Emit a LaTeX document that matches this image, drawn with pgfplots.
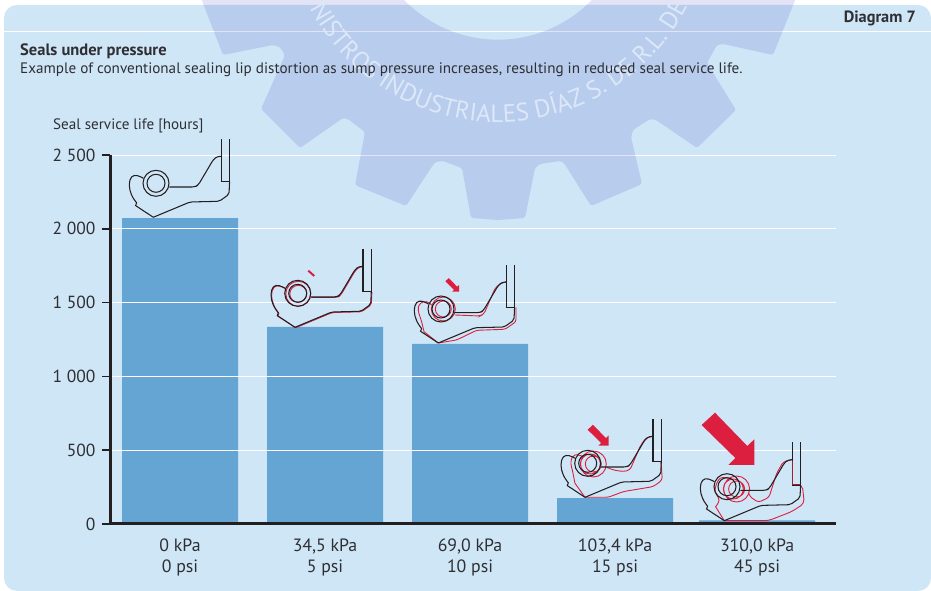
\documentclass[border=0pt]{standalone}
\usepackage{fontspec}
\setmainfont{PT Sans}
\usepackage{pgfplots}
\pgfplotsset{compat=1.18}
\usetikzlibrary{decorations.text}
\definecolor{panel}{HTML}{CFE6F7}
\definecolor{barc}{HTML}{65A5D3}
\definecolor{ink}{HTML}{231F20}
\definecolor{txt}{HTML}{2F2F33}
\definecolor{redc}{HTML}{DC1F3E}
\definecolor{gearm}{rgb}{0.89,0.89,0.96}
\definecolor{wm}{HTML}{DCE8F8}
\newcommand\sealblack{%
 \draw[ink,line width=1.05pt,rounded corners=2pt]
  (0,0)--(36.7,-15.3)--(66,-16)--(75.7,-23)--(76.3,-35.7);
 \draw[ink,line width=1.05pt] (76.3,-78.3)--(76.3,-35.7)--(68,-35.7)--(68,-78.3);
 \draw[ink,line width=1.05pt,rounded corners=3pt]
  (68,-61)--(64,-61)--(60,-57.7)--(45,-32.3)--(41.7,-30.3)--(16,-30.3);
 \draw[ink,line width=1.05pt] (2.7,-34) circle (13) (2.7,-34) circle (9);
 \draw[ink,line width=1.05pt] plot[smooth,tension=.7] coordinates
  {(-10,-39)(-16,-41.7)(-21.7,-40.3)(-24,-32.3)(-21.7,-22.3)(-16.7,-14.5)}
  --(-17.7,-11.7)--(0,0);
}
\begin{document}
\begin{tikzpicture}[x=1pt,y=1pt]
\path[use as bounding box] (0,0) rectangle (931,591);
\clip (0,0) rectangle (931,591);
\begin{scope}[y=-1pt,shift={(0pt,591pt)}]
 \fill[panel,rounded corners=13pt] (4,5) rectangle (931,591);
 \draw[white,line width=1.3pt] (4,31.3)--(931,31.3);
\end{scope}
\begin{axis}[
 at={(110pt,67pt)},anchor=south west,
 scale only axis,width=726pt,height=369pt,
 xmin=-0.483,xmax=4.524,ymin=0,ymax=2500,
 axis lines=left,axis line style={-,ink,line width=3pt},
 axis on top,
 xtick={0,1,2,3,3.98},
 xticklabels={{0 kPa\\0 psi},{34,5 kPa\\5 psi},{69,0 kPa\\10 psi},{103,4 kPa\\15 psi},{310,0 kPa\\45 psi}},
 xticklabel style={align=center,font=\fontsize{17.8}{21}\selectfont,text=txt,yshift=-3pt},
 x tick style={draw=none},
 ytick={0,500,1000,1500,2000,2500},
 yticklabels={0,500,1 000,1 500,2 000,2 500},
 yticklabel style={font=\fontsize{17.5}{20}\selectfont,text=txt,xshift=-3pt},
 y tick style={ink,line width=1.5pt},
 tick align=outside,major tick length=8pt,
 ymajorgrids,grid style={white,line width=.9pt},
 clip=false,
]
\addplot[ybar,bar width=116pt,fill=barc,draw=none] coordinates {(0,2072)(1,1335)(2,1220)(3,176)(3.98,25)};
\end{axis}
\begin{scope}[y=-1pt,shift={(0pt,591pt)}]
 % seals
 \begin{scope}[shift={(153.3,217.3)}]\sealblack\end{scope}
 \begin{scope}[shift={(295,327.3)}]
  \begin{scope}[shift={(.6,.5)}]
  \draw[redc,line width=.9pt,rounded corners=2pt] (0,0)--(36.7,-15.3)--(66,-16)--(75.7,-23)--(76.3,-35.7);
  \draw[redc,line width=.9pt,rounded corners=3pt] (68,-61)--(64,-61)--(60,-57.7)--(45,-32.3)--(41.7,-30.3)--(16,-30.3);
  \draw[redc,line width=.9pt] plot[smooth,tension=.7] coordinates {(-10,-39)(-16,-41.7)(-21.7,-40.3)(-24,-32.3)(-21.7,-22.3)(-16.7,-14.5)}--(-17.7,-11.7)--(0,0);
  \draw[redc,line width=.9pt] (2.7,-34) circle (12.5) (2.7,-34) circle (8.5);
  \end{scope}
  \sealblack
 \end{scope}
 \begin{scope}[shift={(438.3,343)}]
  \draw[redc,line width=.9pt,rounded corners=2.5pt] (0,0)--(18.3,-3)--(38.3,-12.7)--(66.7,-13.7)--(77.7,-21.3)--(77.7,-35.7);
  \draw[redc,line width=.9pt,rounded corners=3pt] (67.7,-61)--(62.3,-59.7)--(56.7,-54.7)--(45.7,-29)--(41.7,-27)--(16.7,-28);
  \draw[redc,line width=.9pt] (5,-34) circle (12) (5,-34) circle (8);
  \draw[redc,line width=.9pt] plot[smooth,tension=.7] coordinates {(-6.7,-38)(-11.7,-41.3)(-17.7,-39.7)(-20,-33)(-16.7,-21.3)(-14.3,-11.3)}--(0,0);
  \sealblack
 \end{scope}
 \begin{scope}[shift={(585,497.3)}]
  \draw[redc,line width=.9pt,rounded corners=3pt] (0,0)--(23.3,0)--(38.3,-5.7)--(68.3,-10.7)--(77.3,-17.3)--(76,-35.7);
  \draw[redc,line width=.9pt,rounded corners=3pt] (68.3,-61)--(60.7,-59.3)--(55,-50.7)--(45,-27.3)--(38.3,-25.7)--(28.3,-27.3)--(21.7,-30);
  \draw[redc,line width=.9pt] (8.3,-33.3) circle (13) (8.3,-33.3) circle (8) (5.5,-33.3) circle (10);
  \draw[redc,line width=.9pt] plot[smooth,tension=.7] coordinates {(-1.7,-40.7)(-10,-42.3)(-14,-35.7)(-12,-24)(-10,-14)}--(0,0);
  \sealblack
 \end{scope}
 \begin{scope}[shift={(724.3,520.7)}]
  \draw[redc,line width=.9pt,rounded corners=4pt] (0,0)--(44,0)--(67.3,-9)--(80,-17.3)--(78,-35.7)--(76.3,-35.7);
  \draw[redc,line width=.9pt,rounded corners=3pt] (67.3,-60.7)--(59,-59)--(52.3,-47.3)--(44.7,-23.3)--(34,-18.3)--(25.7,-24)--(24,-28);
  \draw[redc,line width=.9pt] (12.3,-31.7) circle (13) (12.3,-31.7) circle (8) (9,-31.7) circle (10);
  \draw[redc,line width=.9pt] plot[smooth,tension=.6] coordinates {(5.7,-42.3)(-4.3,-42.3)(-9.3,-30.7)(-5.3,-20.7)(-8.7,-14)}--(0,0);
  \sealblack
  \draw[redc!70!ink,line width=1.1pt] (68,-60)--(68,-36)--(76,-36);
 \end{scope}
 % arrows
 \draw[redc,line width=2pt] (308.3,270.7)--(314.3,276);
 \begin{scope}[shift={(459,291.7)},scale=.26]\fill[redc] (0,0)--(0,-25.7)--(-7,-19)--(-39.3,-52.3)--(-52.7,-40)--(-19,-7)--(-26,0)--cycle;\end{scope}
 \begin{scope}[shift={(608.7,445.7)},scale=.4]\fill[redc] (0,0)--(0,-25.7)--(-7,-19)--(-39.3,-52.3)--(-52.7,-40)--(-19,-7)--(-26,0)--cycle;\end{scope}
 \begin{scope}[shift={(754.3,465)}]\fill[redc] (0,0)--(0,-25.7)--(-7,-19)--(-39.3,-52.3)--(-52.7,-40)--(-19,-7)--(-26,0)--cycle;\end{scope}
 % gear
 \begin{scope}[blend mode=multiply]
 \fill[gearm,even odd rule,rounded corners=2.5pt]
  (201,-2)--(223,55)--(273,45)--(280,47)--(285,55)--(261,109)--(300,148)--(343,118)--(348,119)--(365,132)--(355,185)--(406,206)--(435,162)--(443,161)--(462,168)--(471,218)--(498,220)--(525,218)--(535,168)--(540,164)--(560,161)--(564,163)--(591,206)--(642,184)--(631,137)--(633,130)--(650,119)--(656,120)--(697,148)--(736,110)--(707,63)--(717,45)--(723,44)--(773,55)--(796,-2)--cycle
  (498,-91) circle (130.7);
 \end{scope}
\end{scope}
% watermark text, y up
\path[decorate,decoration={text along path,text align={left indent=0pt},
  text={|\fontsize{25}{25}\selectfont\color{wm}|SUMINISTROS INDUSTRIALES DÍAZ S. DE R.L. DE C.V.}}]
  (498,682) ++(192.5:213pt) arc[start angle=192.5,end angle=352,radius=213pt];
\begin{scope}[y=-1pt,shift={(0pt,591pt)}]
 \node[anchor=base east,font=\fontsize{16.3}{14}\selectfont\bfseries,text=txt,inner sep=0] at (916,23) {Diagram 7};
 \node[anchor=base west,font=\fontsize{16.5}{14}\selectfont\bfseries,text=txt,inner sep=0] at (20,56) {Seals under pressure};
 \node[anchor=base west,font=\fontsize{15.15}{14}\selectfont,text=txt,inner sep=0] at (20,74) {Example of conventional sealing lip distortion as sump pressure increases, resulting in reduced seal service life.};
 \node[anchor=base west,font=\fontsize{15.1}{14}\selectfont,text=txt,inner sep=0] at (53,130) {Seal service life [hours]};
\end{scope}
\end{tikzpicture}
\end{document}
